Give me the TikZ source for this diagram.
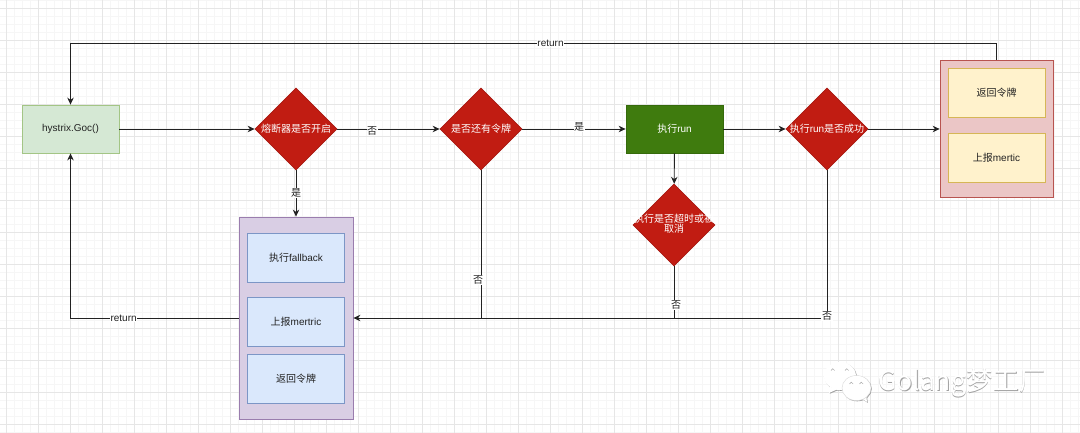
\documentclass[tikz,border=0pt]{standalone}
\usepackage{fontspec}
\setmainfont{Liberation Sans}
\newfontfamily\cjk{Noto Sans CJK SC}
\usetikzlibrary{shapes.geometric,arrows.meta,calc}
\definecolor{gridmaj}{HTML}{E6E6E6}
\definecolor{gridmin}{HTML}{F6F6F6}
\definecolor{dmdfill}{HTML}{C11C12}
\definecolor{dmdline}{HTML}{A81A12}
\definecolor{linec}{HTML}{222222}
\definecolor{txtc}{HTML}{222222}
\tikzset{
  every node/.style={font=\fontsize{10}{12}\selectfont,text=txtc,align=center,inner sep=0pt},
  dmd/.style={shape=diamond,shape aspect=1,minimum width=82pt,minimum height=82pt,fill=dmdfill,draw=dmdline,line width=.8pt,text=white,font=\fontsize{10}{12}\selectfont},
  startbox/.style={rectangle,minimum width=97pt,minimum height=48pt,fill=hfill,draw=hline,line width=.8pt},
  runbox/.style={rectangle,minimum width=97pt,minimum height=48pt,fill=runfill,draw=runline,line width=.8pt,text=white},
  outerp/.style={rectangle,minimum width=114pt,minimum height=202pt,fill=pfill,draw=pline,line width=.8pt},
  outerr/.style={rectangle,minimum width=113pt,minimum height=137pt,fill=rfill,draw=rline,line width=.8pt},
  innerb/.style={rectangle,minimum width=97pt,minimum height=49pt,fill=bfill,draw=bline,line width=.8pt},
  innery/.style={rectangle,minimum width=97pt,minimum height=49pt,fill=yfill,draw=yline,line width=.8pt},
  conn/.style={draw=linec,line width=.9pt},
  arr/.style={conn,-{Stealth[length=7pt,width=6.5pt]}},
  lbl/.style={fill=white,inner sep=.6pt,font=\fontsize{10}{11}\selectfont},
}
\definecolor{hfill}{HTML}{D5E8D4}\definecolor{hline}{HTML}{A3C585}
\definecolor{runfill}{HTML}{3F7B0E}\definecolor{runline}{HTML}{356A0B}
\definecolor{pfill}{HTML}{D9CEE4}\definecolor{pline}{HTML}{9A7DAE}
\definecolor{rfill}{HTML}{EBC6C6}\definecolor{rline}{HTML}{B85450}
\definecolor{bfill}{HTML}{DAE8FC}\definecolor{bline}{HTML}{7C96C6}
\definecolor{yfill}{HTML}{FFF2CC}\definecolor{yline}{HTML}{D6B656}
\definecolor{wmgray}{HTML}{A0A0A0}
\definecolor{wmlight}{HTML}{DADADA}
\newcommand{\dtext}[1]{\makebox[0pt][c]{#1}}
\begin{document}
\begin{tikzpicture}[x=1pt,y=-1pt]
\useasboundingbox (0,0) rectangle (1080,433);
\fill[white] (0,0) rectangle (1080,433);
% grid
\foreach \i in {0,...,135}{\draw[gridmin,line width=.6pt] ({6-8+8*\i},0) -- ({6-8+8*\i},433);}
\foreach \i in {0,...,54}{\draw[gridmin,line width=.6pt] (0,{8*\i}) -- (1080,{8*\i});}
\foreach \i in {0,...,33}{\draw[gridmaj,line width=.7pt] ({6+32*\i},0) -- ({6+32*\i},433);}
\foreach \i in {0,...,13}{\draw[gridmaj,line width=.7pt] (0,{8+32*\i}) -- (1080,{8+32*\i});}

% nodes
\node[startbox] (start) at (70.5,129) {hystrix.Goc()};
\node[dmd] (d1) at (296,129) {\dtext{\cjk 熔断器是否开启}};
\node[dmd] (d2) at (481,129) {\dtext{\cjk 是否还有令牌}};
\node[runbox] (run) at (674.5,129) {{\cjk 执行}run};
\node[dmd] (d3) at (827,129) {\dtext{{\cjk 执行}run{\cjk 是否成功}}};
\node[dmd] (d4) at (674,225) {\dtext{\raisebox{-1.5pt}{\begin{tabular}{@{}c@{}}\cjk 执行是否超时或被\\[-1.5pt]\cjk 取消\end{tabular}}}};
\node[outerr] (rbox) at (996.5,128.5) {};
\node[innery] (ry1) at (996.5,92.5) {\cjk 返回令牌};
\node[innery] (ry2) at (996.5,157.5) {{\cjk 上报}mertic};
\node[outerp] (lbox) at (296,318) {};
\node[innerb] (lb1) at (296,258) {{\cjk 执行}fallback};
\node[innerb] (lb2) at (296,322) {{\cjk 上报}mertric};
\node[innerb] (lb3) at (296,378.5) {\cjk 返回令牌};

% connectors
\draw[arr] (start) -- (d1);
\draw[arr] (d1) -- node[lbl,pos=.34,yshift=-2pt] (ln1) {\cjk 否} (d2);
\draw[arr] (d2) -- node[lbl,pos=.55,yshift=2pt] (ln2) {\cjk 是} (run);
\draw[arr] (run) -- (d3);
\draw[arr] (d3.east) -- (d3.east-|rbox.west);
\draw[arr] (run) -- (d4);
\draw[arr] (d1) -- node[lbl,pos=.49] (ln3) {\cjk 是} (lbox);
\draw[arr] (d3.south) |- node[lbl,pos=.493] (ln4) {\cjk 否} (lbox.east);
\draw[conn] (d2.south) -- ($(d2.south)!1!(d2.south|-lbox.east)$) node[lbl,pos=.74,xshift=-3pt] (ln5) {\cjk 否};
\draw[conn] (d4.south) -- ($(d4.south)!1!(d4.south|-lbox.east)$) node[lbl,pos=.75,xshift=2pt] (ln6) {\cjk 否};
\draw[arr] (rbox.north) -- ++(0,-16) -| node[lbl,pos=.2408] (lr1) {return} (start.north);
\draw[arr] (lbox.west) -| node[lbl,pos=.342] (lr2) {return} (start.south);

% watermark
\begin{scope}
 % large bubble
 \fill[wmgray] (840.8,376.8) ellipse [x radius=16,y radius=14];
 \fill[wmgray] (830.8,387.8) -- (829.8,393.8) -- (838.8,389.8) -- cycle;
 \fill[white] (840,376) ellipse [x radius=16,y radius=14];
 \fill[white] (830,387) -- (829,393) -- (838,389) -- cycle;
 \draw[wmgray,line width=.5pt] (831,370.5) arc (180:360:1.8);
 \draw[wmgray,line width=.5pt] (845,370.5) arc (180:360:1.8);
 % small bubble
 \fill[wmgray] (857.3,388.8) ellipse [x radius=14.5,y radius=12.5];
 \fill[wmgray] (861.8,398.8) -- (867.8,402.8) -- (866.8,394.8) -- cycle;
 \fill[white] (856.5,388) ellipse [x radius=14.5,y radius=12.5];
 \fill[white] (861,398) -- (867,402) -- (866,394) -- cycle;
 \draw[wmlight,line width=.4pt] (856.5,388) ellipse [x radius=14.5,y radius=12.5];
 \draw[wmgray,line width=.5pt] (849.5,384) arc (180:360:1.8);
 \draw[wmgray,line width=.5pt] (859.5,384) arc (180:360:1.8);
 \node[anchor=west,font=\cjk\fontsize{26.5}{30}\selectfont,text=wmgray] (wm0) at (878.7,383.7) {Golang梦工厂};
 \node[anchor=west,font=\cjk\fontsize{26.5}{30}\selectfont,text=white] (wm1) at (878,383) {Golang梦工厂};
\end{scope}
\end{tikzpicture}
\end{document}
